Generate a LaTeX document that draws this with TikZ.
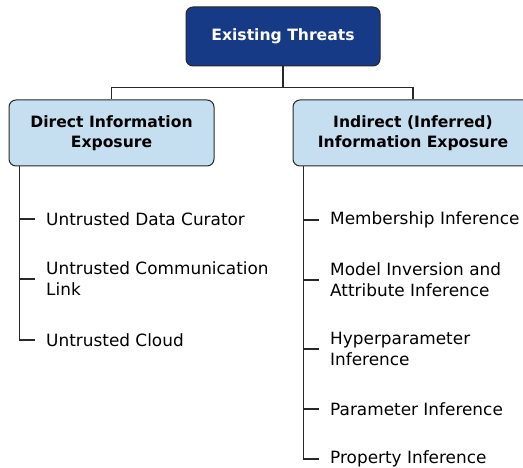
\documentclass[tikz,border=0pt]{standalone}
\usepackage{fontspec}
\setmainfont{DejaVu Sans}
\usepackage{tikz}
\usetikzlibrary{positioning,calc}
\definecolor{rootblue}{RGB}{22,58,134}
\definecolor{lowblue}{RGB}{197,223,240}
\definecolor{linegray}{RGB}{40,40,40}

\begin{document}
\begin{tikzpicture}[x=1pt, y=-1pt, node distance=0pt,
		rootbox/.style={draw=linegray, line width=1pt, rounded corners=7pt, fill=rootblue, text=white, minimum width=194pt, minimum height=59pt, font=\fontsize{15.6}{20}\selectfont\bfseries},
		catbox/.style={draw=linegray, line width=1pt, rounded corners=7pt, fill=lowblue, text=black, minimum height=66pt, align=center, font=\fontsize{15.6}{20}\selectfont\bfseries},
		item/.style={draw=none, anchor=west, align=left, inner xsep=11pt, inner ysep=0pt, font=\fontsize{16.9}{21}\selectfont},
		treeLine/.style={line width=1.3pt, color=linegray}
		]
		\useasboundingbox (0,0) rectangle (523,468);
		
		\node[rootbox](root) at (283,36.5) {Existing Threats};
		\node[catbox, minimum width=205pt](direct) at (111.5,133) {Direct Information\\Exposure};
		\node[catbox, minimum width=240pt](indirect) at (413,133) {Indirect (Inferred)\\Information Exposure};
		
		\draw[treeLine] (root.south) -- ++(0,21) coordinate (fork);
		\draw[treeLine] (direct.north) |- (fork) -| (indirect.north);
		
		% direct exposure
		\coordinate (dtop) at ([xshift=11pt]direct.south west);
		\node[item](d1) at (35,219) {Untrusted Data Curator};
		\node[item](d2) at (35,279) {Untrusted Communication\\Link};
		\node[item](d3) at (35,340) {Untrusted Cloud};
		
		% indirect exposure
		\coordinate (itop) at ([xshift=11pt]indirect.south west);
		\node[item](i1) at (319,220) {Membership Inference};
		\node[item](i2) at (319,280) {Model Inversion and\\Attribute Inference};
		\node[item](i3) at (319,349) {Hyperparameter\\Inference};
		\node[item](i4) at (319,409) {Parameter Inference};
		\node[item](i5) at (319,459) {Property Inference};
		
		\draw[treeLine] (dtop) |- (d3.west);
		\foreach \n in {d1,d2}
			\draw[treeLine] (dtop |- \n.west) -- (\n.west);
		\draw[treeLine] (itop) |- (i5.west);
		\foreach \n in {i1,i2,i3,i4}
			\draw[treeLine] (itop |- \n.west) -- (\n.west);
\end{tikzpicture}
\end{document}
